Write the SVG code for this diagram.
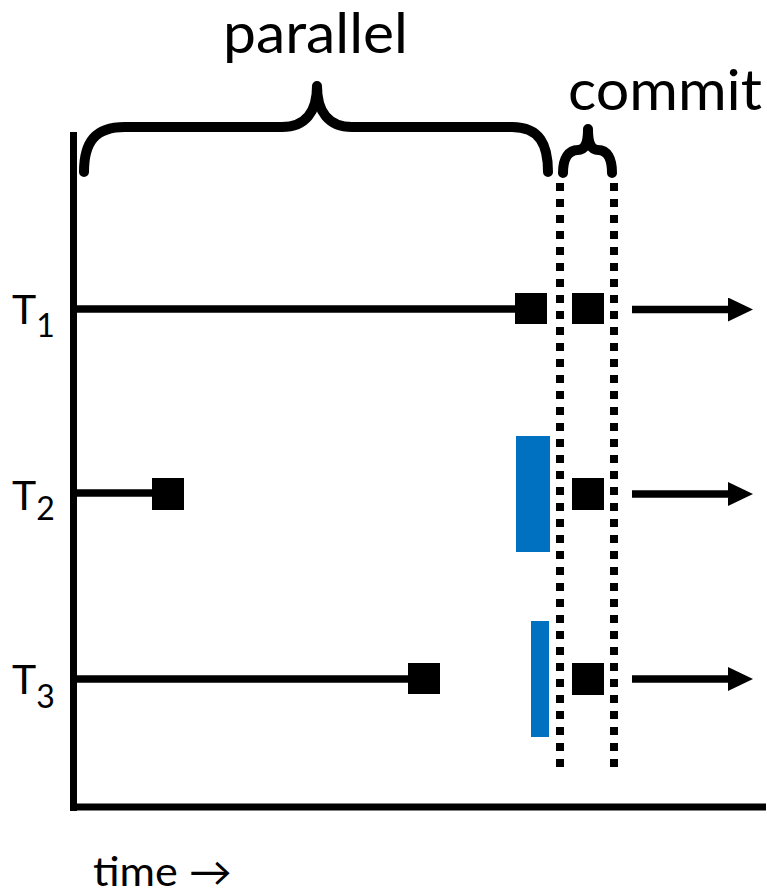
<svg xmlns="http://www.w3.org/2000/svg" width="767" height="890" viewBox="0 0 767 890">
  <defs>
    <style>
      .txt { font-family: Lato, "Open Sans", "DejaVu Sans", sans-serif; fill: #000; }
      .axis { stroke: #000; stroke-width: 7; fill: none; }
      .line { stroke: #000; stroke-width: 7.5; fill: none; }
      .brace { stroke: #000; stroke-width: 10; fill: none; stroke-linecap: round; stroke-linejoin: round; }
      .dots { stroke: #000; stroke-width: 8; stroke-dasharray: 8 8; fill: none; }
      .op { fill: #000; }
      .wait { fill: #0070C0; }
    </style>
    <marker id="head" viewBox="0 0 25 24" refX="0" refY="12" markerWidth="25" markerHeight="24" markerUnits="userSpaceOnUse" orient="auto">
      <path d="M0,0 L25,12 L0,24 Z" fill="#000"/>
    </marker>
  </defs>
  <rect width="767" height="890" fill="#fff"/>

  <!-- axes -->
  <g id="axes">
    <line class="axis" x1="73.5" y1="132" x2="73.5" y2="811"/>
    <line class="axis" x1="70" y1="807" x2="766" y2="807"/>
  </g>

  <!-- phase braces and labels -->
  <g id="parallel">
    <path class="brace" d="M84,172 C84,142 95,127 125,127 L282,127 C305,127 317,112 317,86 C317,112 329,127 352,127 L512,127 C540,127 548,145 548,172"/>
    <text class="txt" x="315.5" y="53" font-size="56" text-anchor="middle" textLength="185" lengthAdjust="spacingAndGlyphs">parallel</text>
  </g>
  <g id="commit">
    <path class="brace" stroke-width="9" d="M563,173 C563,158 569,150 578,150 C585,150 588,143 588,129 C588,143 591,150 598,150 C607,150 612,158 612,173"/>
    <text class="txt" x="665" y="110" font-size="56" text-anchor="middle" textLength="194" lengthAdjust="spacingAndGlyphs">commit</text>
  </g>

  <!-- thread labels -->
  <g id="label-t1"><text class="txt" x="12" y="324" font-size="41">T<tspan font-size="32" dy="13">1</tspan></text></g>
  <g id="label-t2"><text class="txt" x="12" y="510" font-size="41">T<tspan font-size="32" dy="10">2</tspan></text></g>
  <g id="label-t3"><text class="txt" x="12" y="694" font-size="41">T<tspan font-size="32" dy="14">3</tspan></text></g>

  <!-- thread operations -->
  <g id="t1">
    <rect class="op" x="515" y="293" width="32" height="31"/>
    <rect class="op" x="572" y="293" width="32" height="31"/>
  </g>
  <g id="t2">
    <rect class="op" x="152" y="478" width="32" height="32"/>
    <rect class="wait" x="516" y="436" width="34" height="116"/>
    <rect class="op" x="572" y="478" width="32" height="32"/>
  </g>
  <g id="t3">
    <rect class="op" x="408" y="663" width="32" height="31"/>
    <rect class="wait" x="531" y="621" width="18" height="116"/>
    <rect class="op" x="572" y="663" width="32" height="32"/>
  </g>

  <!-- connectors: timelines, phase boundaries, continuation arrows -->
  <g id="connectors">
    <line class="line" x1="77" y1="309" x2="516" y2="309"/>
    <line class="line" x1="77" y1="493" x2="153" y2="493"/>
    <line class="line" x1="77" y1="679" x2="409" y2="679"/>
    <line class="dots" x1="560" y1="183" x2="560" y2="767"/>
    <line class="dots" x1="614" y1="183" x2="614" y2="767"/>
    <line class="line" x1="632" y1="309.5" x2="728" y2="309.5" marker-end="url(#head)"/>
    <line class="line" x1="632" y1="494" x2="728" y2="494" marker-end="url(#head)"/>
    <line class="line" x1="632" y1="679" x2="728" y2="679" marker-end="url(#head)"/>
  </g>

  <text class="txt" x="93" y="886" font-size="40" textLength="139" lengthAdjust="spacingAndGlyphs">time →</text>
</svg>
